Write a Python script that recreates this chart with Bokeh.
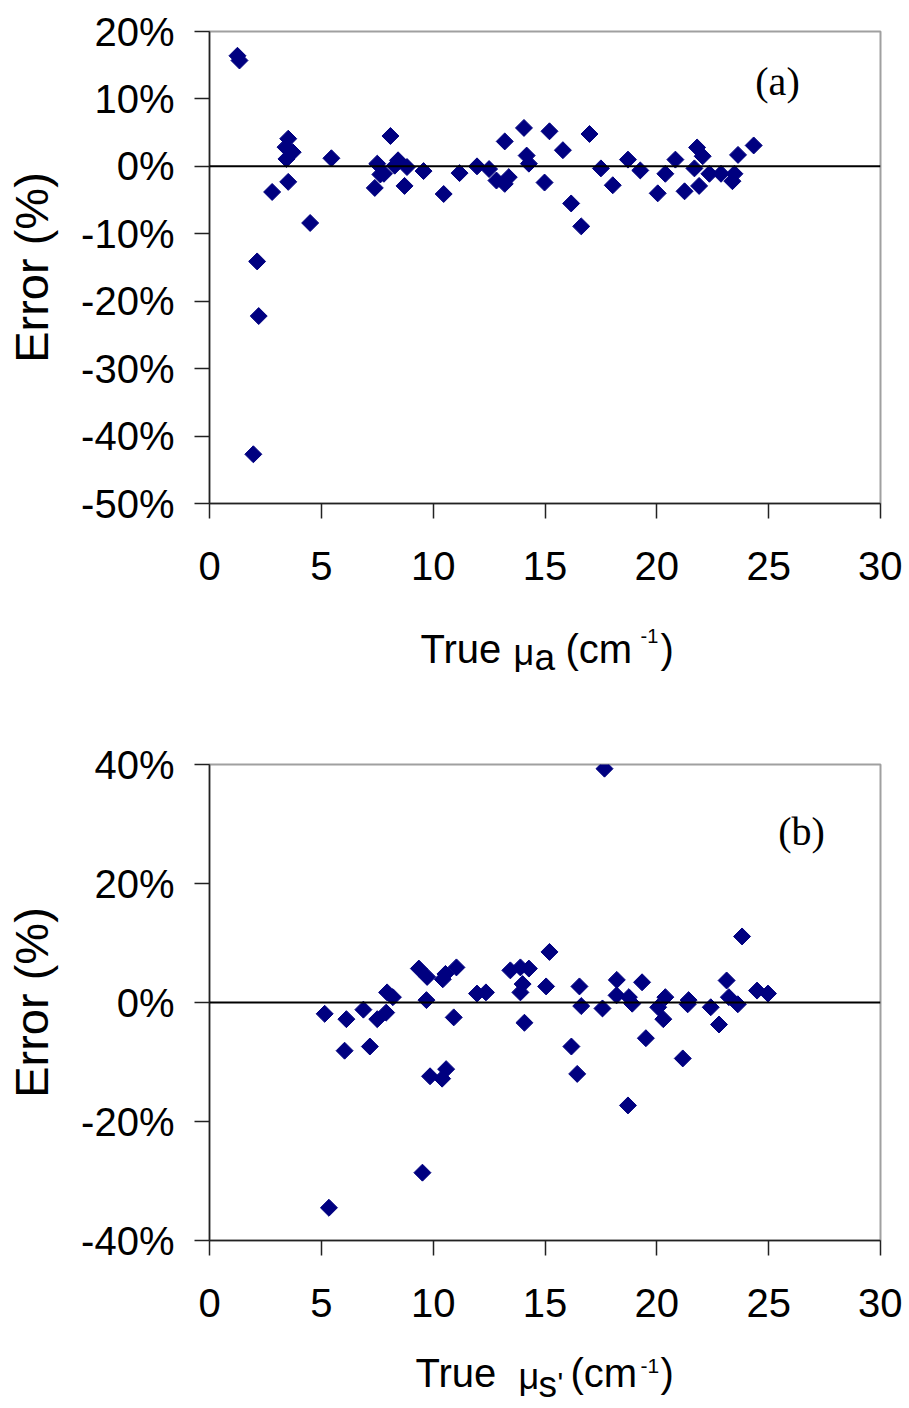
import numpy as np
from bokeh.plotting import figure
from bokeh.models import Span, Label, FixedTicker, Range1d, ColumnDataSource
from bokeh.core.properties import value
from bokeh.layouts import column
from bokeh.embed import file_html
from bokeh.resources import INLINE

# ---- data ----
mua_true = [1.25, 1.34, 1.96, 2.13, 2.20, 2.80, 3.40, 3.44, 3.52, 3.52, 3.72, 4.50,
            5.45, 7.39, 7.50, 7.64, 7.80, 8.09, 8.28, 8.43, 8.72, 8.83, 9.57, 10.47,
            11.18, 11.96, 12.50, 12.83, 13.20, 13.38, 13.20, 14.06, 14.18, 14.28, 14.98,
            15.20, 15.80, 16.17, 16.62, 16.99, 17.50, 18.03, 18.71, 19.26, 20.04, 20.38,
            20.83, 21.24, 21.68, 21.80, 21.89, 22.05, 22.35, 22.87, 23.38, 23.47, 23.63, 24.33]
mua_err = [16.4, 15.7, -42.7, -14.1, -22.2, -3.8, 2.85, 1.1, 4.1, -2.3, 2.1, -8.4,
           1.2, -3.2, 0.4, -1.2, -1.1, 4.5, 0.1, 0.9, -2.9, -0.1, -0.7, -4.1,
           -1.0, 0.0, -0.4, -2.1, -2.6, -1.6, 3.7, 5.7, 1.6, 0.4, -2.4,
           5.2, 2.4, -5.5, -8.9, 4.8, -0.3, -2.8, 1.0, -0.6, -4.0, -1.1,
           1.0, -3.7, -0.3, 2.8, -2.9, 1.5, -1.1, -1.1, -2.2, -1.1, 1.7, 3.1]

mus_true = [5.15, 5.34, 6.04, 6.12, 6.88, 7.17, 7.50, 7.90, 7.94, 8.20, 9.36, 9.52,
            9.70, 9.73, 9.86, 10.40, 10.43, 10.55, 10.58, 10.92, 11.04, 11.96, 12.36,
            13.45, 13.90, 13.90, 14.00, 14.08, 14.28, 15.05, 15.20, 16.18, 16.44, 16.54,
            16.62, 17.57, 17.66, 18.20, 18.21, 18.71, 18.75, 18.90, 19.34, 19.51, 20.06,
            20.29, 20.38, 21.16, 21.38, 21.42, 22.41, 22.78, 23.12, 23.22, 23.62, 23.81,
            24.48, 24.97]
mus_err = [-1.9, -34.5, -8.1, -2.8, -1.2, -7.4, -2.8, -1.7, 1.7, 0.9, 5.7, -28.6,
           0.4, 4.3, -12.4, -12.8, 3.9, 4.8, -11.2, -2.5, 5.9, 1.5, 1.7,
           5.4, 5.9, 1.7, 3.1, -3.4, 5.7, 2.7, 8.5, -7.4, -12.0, 2.7,
           -0.6, -1.0, 39.3, 1.2, 3.8, -17.3, 0.9, -0.2, 3.4, -6.0, -0.8,
           -2.8, 0.9, -9.4, -0.3, 0.4, -0.8, -3.7, 3.7, 0.9, -0.3, 11.1,
           2.0, 1.5]

x_ticks = [0, 5, 10, 15, 20, 25, 30]
ya_ticks = [20, 10, 0, -10, -20, -30, -40, -50]
yb_ticks = [40, 20, 0, -20, -40]

# x-axis titles, split into pieces (normal / subscript / superscript)
xa_title = ["True", "\u03bc", "a", "(cm", "-1", ")"]
xb_title = ["True", "\u03bc", "s", "'", "(cm", "-1", ")"]

SANS = "Liberation Sans"
SERIF = "Liberation Serif"
NAVY = "#000080"
LEFT, FW, RIGHT = 209, 671, 22


def make_fig(xs, ys, yticks, yrange, top_border, frame_h, bottom_border):
    p = figure(output_backend="svg", toolbar_location=None,
               frame_width=FW, frame_height=frame_h,
               x_range=Range1d(0, 30), y_range=Range1d(*yrange),
               min_border_left=LEFT, min_border_right=RIGHT,
               min_border_top=top_border, min_border_bottom=bottom_border)
    p.background_fill_color = "white"
    p.border_fill_color = "white"
    p.outline_line_color = "#a0a0a0"
    p.outline_line_width = 2
    p.xgrid.visible = False
    p.ygrid.visible = False
    for ax in (p.xaxis[0], p.yaxis[0]):
        ax.axis_line_color = "#222222"
        ax.axis_line_width = 1.5
        ax.major_tick_line_color = "#222222"
        ax.major_tick_line_width = 1.5
        ax.major_tick_in = 0
        ax.major_tick_out = 15
        ax.minor_tick_line_color = None
        ax.major_label_text_font = SANS
        ax.major_label_text_font_size = "40px"
        ax.major_label_text_color = "black"
    p.xaxis.ticker = FixedTicker(ticks=x_ticks)
    p.yaxis.ticker = FixedTicker(ticks=yticks)
    p.yaxis.major_label_overrides = {t: f"{t}%" for t in yticks}
    p.xaxis.major_label_standoff = 33
    p.yaxis.major_label_standoff = 20
    p.yaxis.axis_label = "Error (%)"
    p.yaxis.axis_label_text_font = SANS
    p.yaxis.axis_label_text_font_size = "47px"
    p.yaxis.axis_label_text_font_style = "normal"
    p.yaxis.axis_label_text_color = "black"
    p.yaxis.axis_label_standoff = 20
    p.add_layout(Span(location=0, dimension="width", line_color="black", line_width=2))
    p.scatter(xs, ys, marker="square", size=12, angle=np.pi / 4,
              fill_color=NAVY, line_color=NAVY, line_width=1)
    return p


def title_strip(y0, y1, pieces, xs, ys, sizes):
    """Strip under a panel, frame aligned with the panel, data units = page pixels."""
    s = figure(output_backend="svg", toolbar_location=None,
               frame_width=FW, frame_height=y1 - y0,
               x_range=Range1d(LEFT, LEFT + FW), y_range=Range1d(y1, y0),
               min_border_left=LEFT, min_border_right=RIGHT, min_border_top=0,
               min_border_bottom=0, x_axis_location=None, y_axis_location=None)
    s.outline_line_color = None
    s.xgrid.visible = False
    s.ygrid.visible = False
    # compensate the glyph's baseline offset (proportional to font size)
    yy = [y - 0.37 * f for y, f in zip(ys, sizes)]
    src = ColumnDataSource(dict(x=xs, y=yy, t=pieces, fs=[f"{f}px" for f in sizes]))
    s.text(x="x", y="y", text="t", text_font_size="fs", source=src,
           text_font=value(SANS), text_align="left", text_baseline="alphabetic",
           text_color="black")
    return s


# ---- panel (a): page rows 0..600 ----
p1 = make_fig(mua_true, mua_err, ya_ticks, (-50, 20), 31, 472, 600 - 31 - 472)
p1.add_layout(Label(x=568, y=422, x_units="screen", y_units="screen", text="(a)",
                    text_align="center", text_baseline="middle", text_font=SERIF,
                    text_font_size="40px", text_color="black"))
t1 = title_strip(600, 690, xa_title,
                 [420, 513, 534, 565, 640, 660],
                 [663, 665, 671, 663, 643, 663],
                 [40, 36, 37, 40, 20, 40])

# ---- panel (b): page rows 690..1330 ----
p2 = make_fig(mus_true, mus_err, yb_ticks, (-40, 40), 764 - 690, 476, 1330 - 1240)
p2.add_layout(Label(x=592, y=409, x_units="screen", y_units="screen", text="(b)",
                    text_align="center", text_baseline="middle", text_font=SERIF,
                    text_font_size="40px", text_color="black"))
t2 = title_strip(1330, 1406, xb_title,
                 [415, 518, 538, 557, 570, 640, 660],
                 [1387, 1389, 1398, 1393, 1387, 1373, 1387],
                 [40, 36, 37, 30, 40, 21, 40])

layout = column(p1, t1, p2, t2)
open("out.html", "w").write(file_html(layout, INLINE))
